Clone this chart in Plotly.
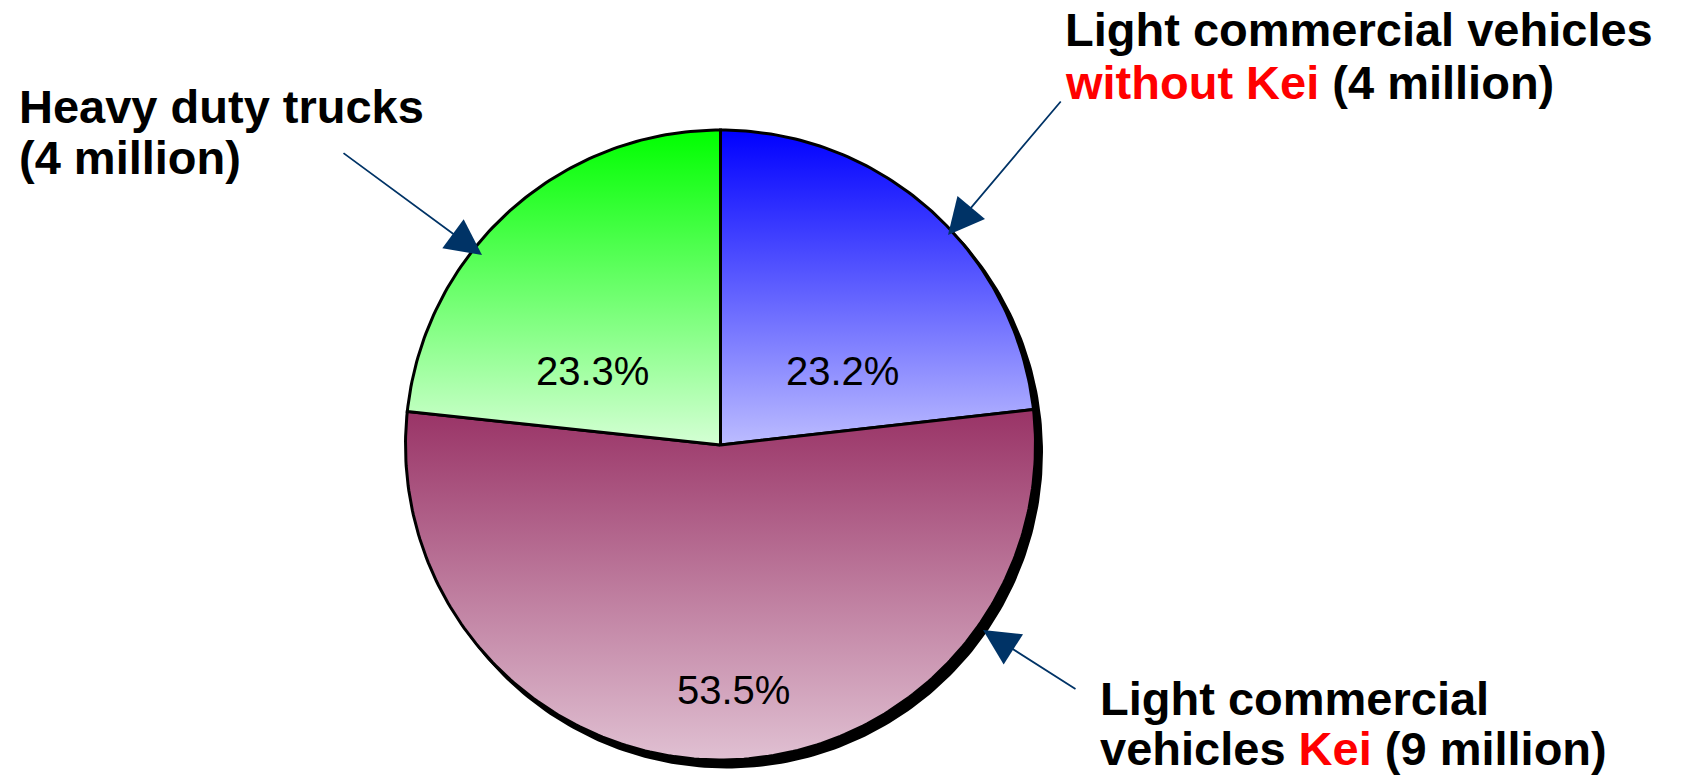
import numpy as np
import plotly.graph_objects as go

# Shares of the fleet, clockwise from 12 o'clock
segments = ["Light commercial vehicles without Kei", "Light commercial vehicles Kei", "Heavy duty trucks"]
shares = [23.2, 53.5, 23.3]
top_colors = ["rgb(0,0,255)", "rgb(153,51,102)", "rgb(0,255,0)"]
bottom_colors = ["rgb(188,188,255)", "rgb(224,192,210)", "rgb(212,255,212)"]

W, H = 1681, 775
CX, CY, R = 720.5, 445.0, 315.0   # pie centre / radius in pixels


def px(x, y):
    """pixel position -> data coordinates (pie centre at 0,0, radius 1)"""
    return (x - CX) / R, (CY - y) / R


fig = go.Figure()

# drop shadow under the pie
t = np.linspace(0, 2 * np.pi, 361)
sx, sy = 6 / R, -7 / R
fig.add_trace(go.Scatter(x=np.sin(t) + sx, y=np.cos(t) + sy, mode="lines",
                         fill="toself", fillcolor="black",
                         line=dict(color="black", width=3), hoverinfo="skip"))

total = sum(shares)
start = 0.0
for name, v, ct, cb in zip(segments, shares, top_colors, bottom_colors):
    a0 = start / total * 2 * np.pi
    a1 = (start + v) / total * 2 * np.pi
    ang = np.linspace(a0, a1, max(int(v * 4), 20))
    xs = np.concatenate([[0], np.sin(ang), [0]])
    ys = np.concatenate([[0], np.cos(ang), [0]])
    fig.add_trace(go.Scatter(
        x=xs, y=ys, mode="lines", fill="toself", name=name,
        fillgradient=dict(type="vertical", colorscale=[[0, cb], [1, ct]]),
        line=dict(color="black", width=3), hoverinfo="skip"))
    start += v

# percentage labels
pct_pos = [(842, 371), (733, 690), (592, 371)]
for v, (lx, ly) in zip(shares, pct_pos):
    x, y = px(lx, ly)
    fig.add_annotation(x=x, y=y, text=f"{v:.1f}%", showarrow=False,
                       font=dict(family="Liberation Sans Narrow, Arial Narrow, Liberation Sans, sans-serif",
                                 size=40, color="black"))

bold = "Liberation Sans, Arial, sans-serif"
red = "<span style='color:#ff0000'>{}</span>"

# callout text, one annotation per line (left edge, cap-centre y)
callouts = [
    ("<b>Heavy duty trucks</b>", 17, 106, bold),
    ("<b>(4 million)</b>", 17, 157, bold),
    ("<b>Light commercial vehicles</b>", 1063, 29, bold),
    ("<b>" + red.format("without Kei") + " (4 million)</b>", 1063, 82, bold),
    ("<b>Light commercial</b>", 1098, 698, bold),
    ("<b>vehicles " + red.format("Kei") + " (9 million)</b>", 1098, 748, bold),
]
for txt, lx, ly, fam in callouts:
    x, y = px(lx, ly)
    fig.add_annotation(x=x, y=y, text=txt, showarrow=False, xanchor="left",
                       yanchor="middle", font=dict(family=fam, size=47, color="black"))

# arrows: (tail, tip) in pixels
arrows = [((342, 152), (482, 255)),
          ((1062, 100), (948, 235)),
          ((1077, 690), (983, 630))]
for (tx, ty), (hx, hy) in arrows:
    x0, y0 = px(tx, ty)
    x1, y1 = px(hx, hy)
    fig.add_annotation(x=x1, y=y1, ax=x0, ay=y0, axref="x", ayref="y",
                       text="", showarrow=True, arrowhead=2, arrowsize=4,
                       arrowwidth=1.8, arrowcolor="rgb(0,51,102)")

x_lo, _ = px(0, 0)
x_hi, _ = px(W, 0)
_, y_hi = px(0, 0)
_, y_lo = px(0, H)
fig.update_layout(
    width=W, height=H, margin=dict(l=0, r=0, t=0, b=0),
    paper_bgcolor="white", plot_bgcolor="white", showlegend=False,
    xaxis=dict(range=[x_lo, x_hi], visible=False, fixedrange=True),
    yaxis=dict(range=[y_lo, y_hi], visible=False, fixedrange=True),
)

fig.write_html("out.html")
